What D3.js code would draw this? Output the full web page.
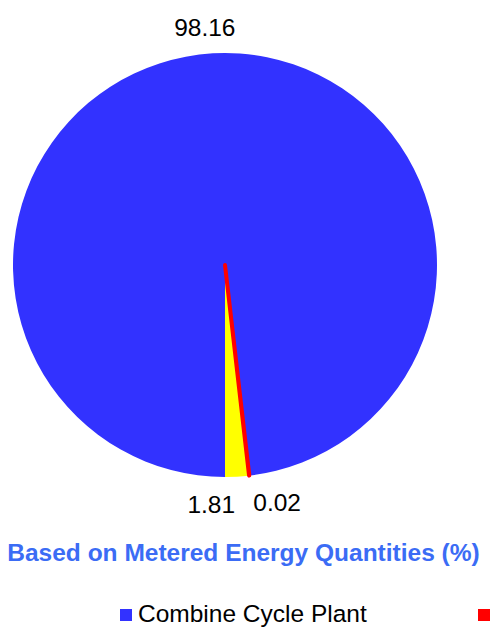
<!DOCTYPE html>
<html>
<head>
<meta charset="utf-8">
<script src="https://cdn.jsdelivr.net/npm/d3@7"></script>
<style>
  html, body { margin: 0; padding: 0; background: #fff; }
  svg { display: block; font-family: "Liberation Sans", Arial, sans-serif; }
</style>
</head>
<body>
<svg id="viz"></svg>
<script>
// data
const categories = ["Combine Cycle Plant", "Other 1", "Other 2"];
const values = [98.16, 0.02, 1.81];
const colors = ["#3232ff", "#ff0000", "#ffff00"];
const labelText = ["98.16", "0.02", "1.81"];

// 1. svg
const width = 491, height = 634;
const svg = d3.select("#viz")
              .attr("width", width)
              .attr("height", height);

const cx = 225, cy = 265, radius = 212;

// 2. pie layout, starts at the bottom and keeps data order
const pie = d3.pie()
              .sort(null)
              .startAngle(Math.PI)
              .endAngle(Math.PI * 3);

const arcs = pie(values);

const arc = d3.arc().innerRadius(0).outerRadius(radius);

const g = svg.append("g").attr("transform", "translate(" + cx + "," + cy + ")");

// draw the tiny slice last so its stroke sits on top
const drawOrder = arcs.map((d, i) => ({d: d, i: i}))
                      .sort((a, b) => b.d.data - a.d.data);

g.selectAll("path")
 .data(drawOrder)
 .enter()
 .append("path")
 .attr("d", o => arc(o.d))
 .attr("fill", o => colors[o.i])
 .attr("stroke", o => o.d.data < 1 ? colors[o.i] : "none")
 .attr("stroke-width", 4)
 .attr("stroke-linejoin", "round");

// 3. labels
function labelPos(d) {
  const a = (d.startAngle + d.endAngle) / 2;
  const r = d.data > 50 ? 229 : 248;
  return [r * Math.sin(a), -r * Math.cos(a)];
}
g.selectAll("text.lbl")
 .data(arcs)
 .enter()
 .append("text")
 .attr("class", "lbl")
 .attr("x", (d, i) => {
   const p = labelPos(d);
   if (i === 0) return p[0] - 7;
   if (i === 2) return p[0] - 4;
   return p[0];
 })
 .attr("y", d => labelPos(d)[1])
 .attr("text-anchor", (d, i) => i === 0 ? "middle" : (i === 2 ? "end" : "start"))
 .attr("font-size", "24.5px")
 .attr("fill", "#000")
 .text((d, i) => labelText[i]);

// 4. title
svg.append("text")
   .attr("x", width / 2 - 2)
   .attr("y", 561)
   .attr("text-anchor", "middle")
   .attr("font-size", "24.5px")
   .attr("font-weight", "bold")
   .attr("fill", "#3b6cf5")
   .text("Based on Metered Energy Quantities (%)");

// 5. legend (cut off at the right edge, like the original)
const legendX = [120, 478];
const legend = svg.selectAll("g.leg")
   .data(legendX)
   .enter()
   .append("g")
   .attr("class", "leg")
   .attr("transform", d => "translate(" + d + ",609)");

legend.append("rect")
   .attr("width", 12)
   .attr("height", 12)
   .attr("fill", (d, i) => colors[i]);

legend.filter((d, i) => i === 0)
   .append("text")
   .attr("x", 18)
   .attr("y", 13)
   .attr("font-size", "24.5px")
   .attr("fill", "#000")
   .text(categories[0]);
</script>
</body>
</html>
